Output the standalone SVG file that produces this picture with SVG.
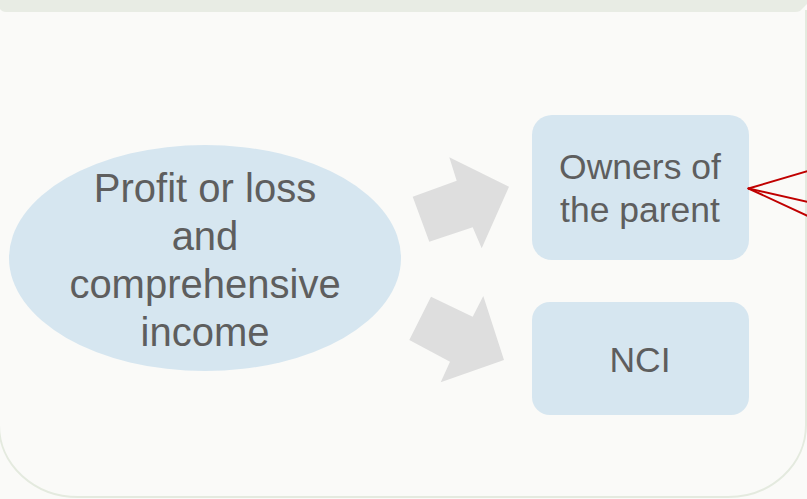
<svg xmlns="http://www.w3.org/2000/svg" width="807" height="499" viewBox="0 0 807 499">
  <style>
    .node { fill: #d6e6f0; }
    .label { font-family: "Liberation Sans", Arial, sans-serif; fill: #5e5e5e; text-anchor: middle; }
    .big { font-size: 40px; }
    .mid { font-size: 35.5px; }
    .block { fill: #dedede; }
    .link { stroke: #c00000; stroke-width: 2; fill: none; stroke-linecap: round; }
  </style>

  <!-- page background -->
  <rect x="0" y="0" width="807" height="499" fill="#fafaf8"/>

  <!-- panel with rounded lower corners -->
  <path d="M-1,10 L-1,425 A79,72 0 0 0 78,497 L728,497 A78,72 0 0 0 806,425 L806,10"
        fill="#fafaf8" stroke="#e4eadf" stroke-width="2"/>

  <!-- header band -->
  <path d="M0,0 L807,0 L807,4 L800,11 Q798,12 795,12 L6,12 Q2,12 0,9 Z" fill="#e8ece4"/>

  <!-- source ellipse -->
  <g id="node-income">
    <ellipse class="node" cx="205" cy="258" rx="196" ry="113"/>
    <text class="label big" x="205" y="202">Profit or loss</text>
    <text class="label big" x="205" y="250">and</text>
    <text class="label big" x="205" y="298">comprehensive</text>
    <text class="label big" x="205" y="346">income</text>
  </g>

  <!-- target boxes -->
  <g id="node-owners">
    <rect class="node" x="532" y="115" width="217" height="145" rx="20"/>
    <text class="label mid" x="640" y="179">Owners of</text>
    <text class="label mid" x="640" y="222">the parent</text>
  </g>

  <g id="node-nci">
    <rect class="node" x="532" y="302" width="217" height="113" rx="18"/>
    <text class="label mid" x="640" y="372">NCI</text>
  </g>

  <!-- connectors -->
  <g id="connectors">
    <polygon class="block" points="412.7,196.7 456.7,180.7 449.3,157.3 509,186.7 481.7,248.3 472.7,227.3 429.3,241.7"/>
    <polygon class="block" points="409.3,340 431,296.7 472.7,316.7 483.3,296 504,360 440.7,382.3 450,361.7"/>
    <line class="link" x1="748.5" y1="188.5" x2="808" y2="171"/>
    <line class="link" x1="748.5" y1="188.5" x2="808" y2="202"/>
    <line class="link" x1="748.5" y1="188.5" x2="808" y2="216"/>
  </g>
</svg>
